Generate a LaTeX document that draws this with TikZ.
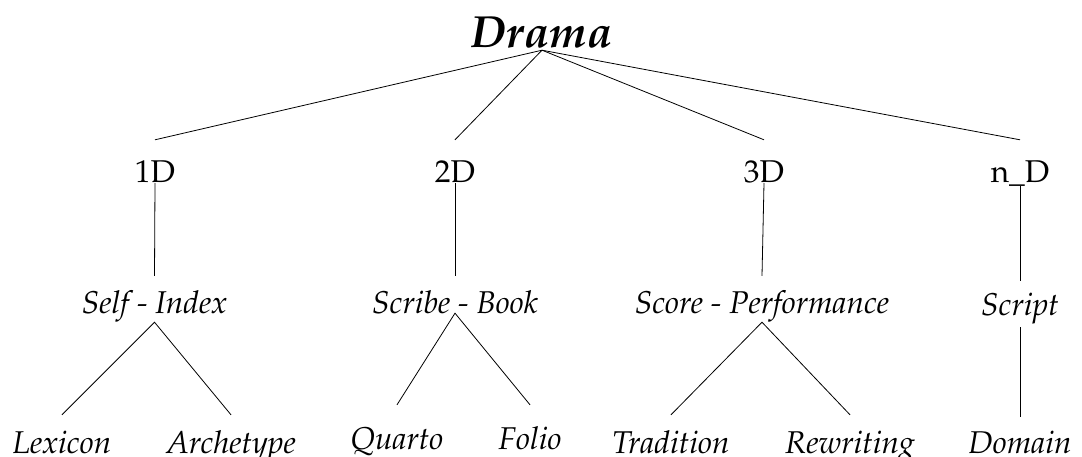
\documentclass[tikz,border=0pt]{standalone}
\usepackage[T1]{fontenc}
\renewcommand{\rmdefault}{ppl}
\begin{document}
\begin{tikzpicture}[x=1pt,y=-1pt,
  every node/.style={inner sep=0pt,anchor=base},
  rootlabel/.style={font=\fontsize{45}{50}\selectfont\bfseries\itshape,text depth=2pt},
  dimlabel/.style={font=\fontsize{31.5}{36}\selectfont,text height=43pt,text depth=0pt},
  pairlabel/.style={font=\fontsize{31.5}{36}\selectfont\itshape},
  leaflabel/.style={font=\fontsize{31.5}{36}\selectfont\itshape,text depth=0pt},
  branch/.style={draw=black,line width=0.8pt}]
\useasboundingbox (0,0) rectangle (1082,457);

% root
\node[rootlabel] (drama) at (542,48) {Drama};

% dimensions
\node[dimlabel] (d1) at (155,183) {1D};
\node[dimlabel] (d2) at (455,183) {2D};
\node[dimlabel] (d3) at (764,183) {3D};
\node[dimlabel,text depth=3pt] (dn) at (1020,183) {n\_D};

% pairs
\node[pairlabel,text height=37pt,text depth=9pt] (self) at (154.5,313) {Self - Index};
\node[pairlabel,text height=37pt,text depth=0pt] (scribe) at (455,313) {Scribe - Book};
\node[pairlabel,text height=37pt,text depth=9pt] (score) at (762,313) {Score - Performance};
\node[pairlabel,text height=35pt,text depth=11pt] (script) at (1020,316) {Script};

% leaves
\node[leaflabel,text height=38pt] (lexicon) at (62,453) {Lexicon};
\node[leaflabel,text height=38pt] (archetype) at (231,453) {Archetype};
\node[leaflabel,text height=44pt] (quarto) at (397,449) {Quarto};
\node[leaflabel,text height=44pt] (folio) at (530,449) {Folio};
\node[leaflabel,text height=38pt] (tradition) at (671,453) {Tradition};
\node[leaflabel,text height=38pt] (rewriting) at (850,453) {Rewriting};
\node[leaflabel,text height=36pt] (domain) at (1020,453) {Domain};

% connectors
\foreach \d in {d1,d2,d3,dn} \draw[branch] (drama.south) -- (\d.north);
\draw[branch] (d1.south) -- (self.north);
\draw[branch] (d2.south) -- (scribe.north);
\draw[branch] (d3.south) -- (score.north);
\draw[branch] (dn.south) -- (script.north);
\draw[branch] (lexicon.north) -- (self.south) -- (archetype.north);
\draw[branch] (quarto.north) -- (scribe.south) -- (folio.north);
\draw[branch] (tradition.north) -- (score.south) -- (rewriting.north);
\draw[branch] (script.south) -- (domain.north);
\end{tikzpicture}
\end{document}
